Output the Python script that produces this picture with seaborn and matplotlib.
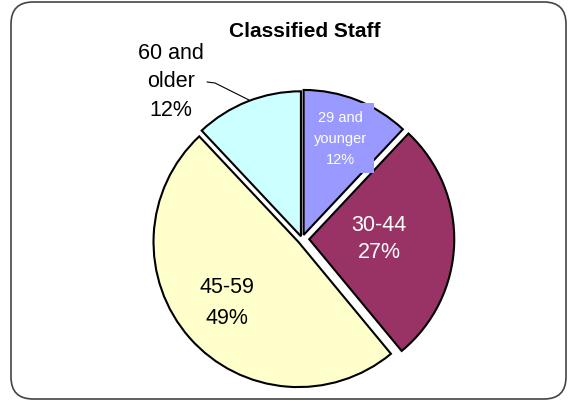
import seaborn as sns
import matplotlib
matplotlib.use('Agg')
import matplotlib.pyplot as plt
from matplotlib.patches import FancyBboxPatch
from matplotlib.transforms import IdentityTransform

groups = ['29 and\nyounger', '30-44', '45-59', '60 and\nolder']
shares = [12, 27, 49, 12]
colors = ['#9999FF', '#993366', '#FFFFCC', '#CCFFFF']
explode = [0.03, 0.05, 0.032, 0.02]

sns.set_theme(style='white')
plt.rcParams['font.family'] = ['Liberation Sans', 'DejaVu Sans']

fig = plt.figure(figsize=(5.68, 4.02), dpi=100)
ax = fig.add_axes([0, 0, 1, 1])
ax.set_axis_off()

# rounded frame round the chart (pixel coords)
frame = FancyBboxPatch((11, 2), 555, 397,
                       boxstyle='round,pad=0,rounding_size=22',
                       transform=IdentityTransform(), fill=False,
                       edgecolor='#444444', linewidth=1.2)
fig.patches.append(frame)

R = 145.0
cx, cy = 302, 240

wedges, _ = ax.pie(shares, colors=colors, explode=explode, startangle=90,
                   counterclock=False, radius=1.0,
                   wedgeprops=dict(edgecolor='black', linewidth=1.5))
ax.set_xlim(-cx / R, (568 - cx) / R)
ax.set_ylim(-(402 - cy) / R, cy / R)
ax.set_aspect('equal')


def px(x, y):
    return ((x - cx) / R, (cy - y) / R)


ax.text(*px(305, 32), 'Classified Staff', ha='center', va='center',
        fontsize=15, fontweight='bold', color='black')

ax.text(*px(340, 139), f'{groups[0]}\n{shares[0]}%', ha='center', va='center',
        fontsize=10.5, color='white', linespacing=1.65,
        bbox=dict(facecolor=colors[0], edgecolor='none', pad=5))
ax.text(*px(379, 239), f'{groups[1]}\n{shares[1]}%', ha='center', va='center',
        fontsize=15.5, color='white', linespacing=1.4)
ax.text(*px(227, 303), f'{groups[2]}\n{shares[2]}%', ha='center', va='center',
        fontsize=15.5, color='black', linespacing=1.6)
ax.text(*px(171, 82), f'{groups[3]}\n{shares[3]}%', ha='center', va='center',
        fontsize=15.5, color='black', linespacing=1.45)
lx = [207, 215, 249]
ly = [83, 84, 101]
ax.plot([px(x, y)[0] for x, y in zip(lx, ly)],
        [px(x, y)[1] for x, y in zip(lx, ly)],
        color='black', linewidth=0.8)

fig.savefig('out.png', dpi=100)
